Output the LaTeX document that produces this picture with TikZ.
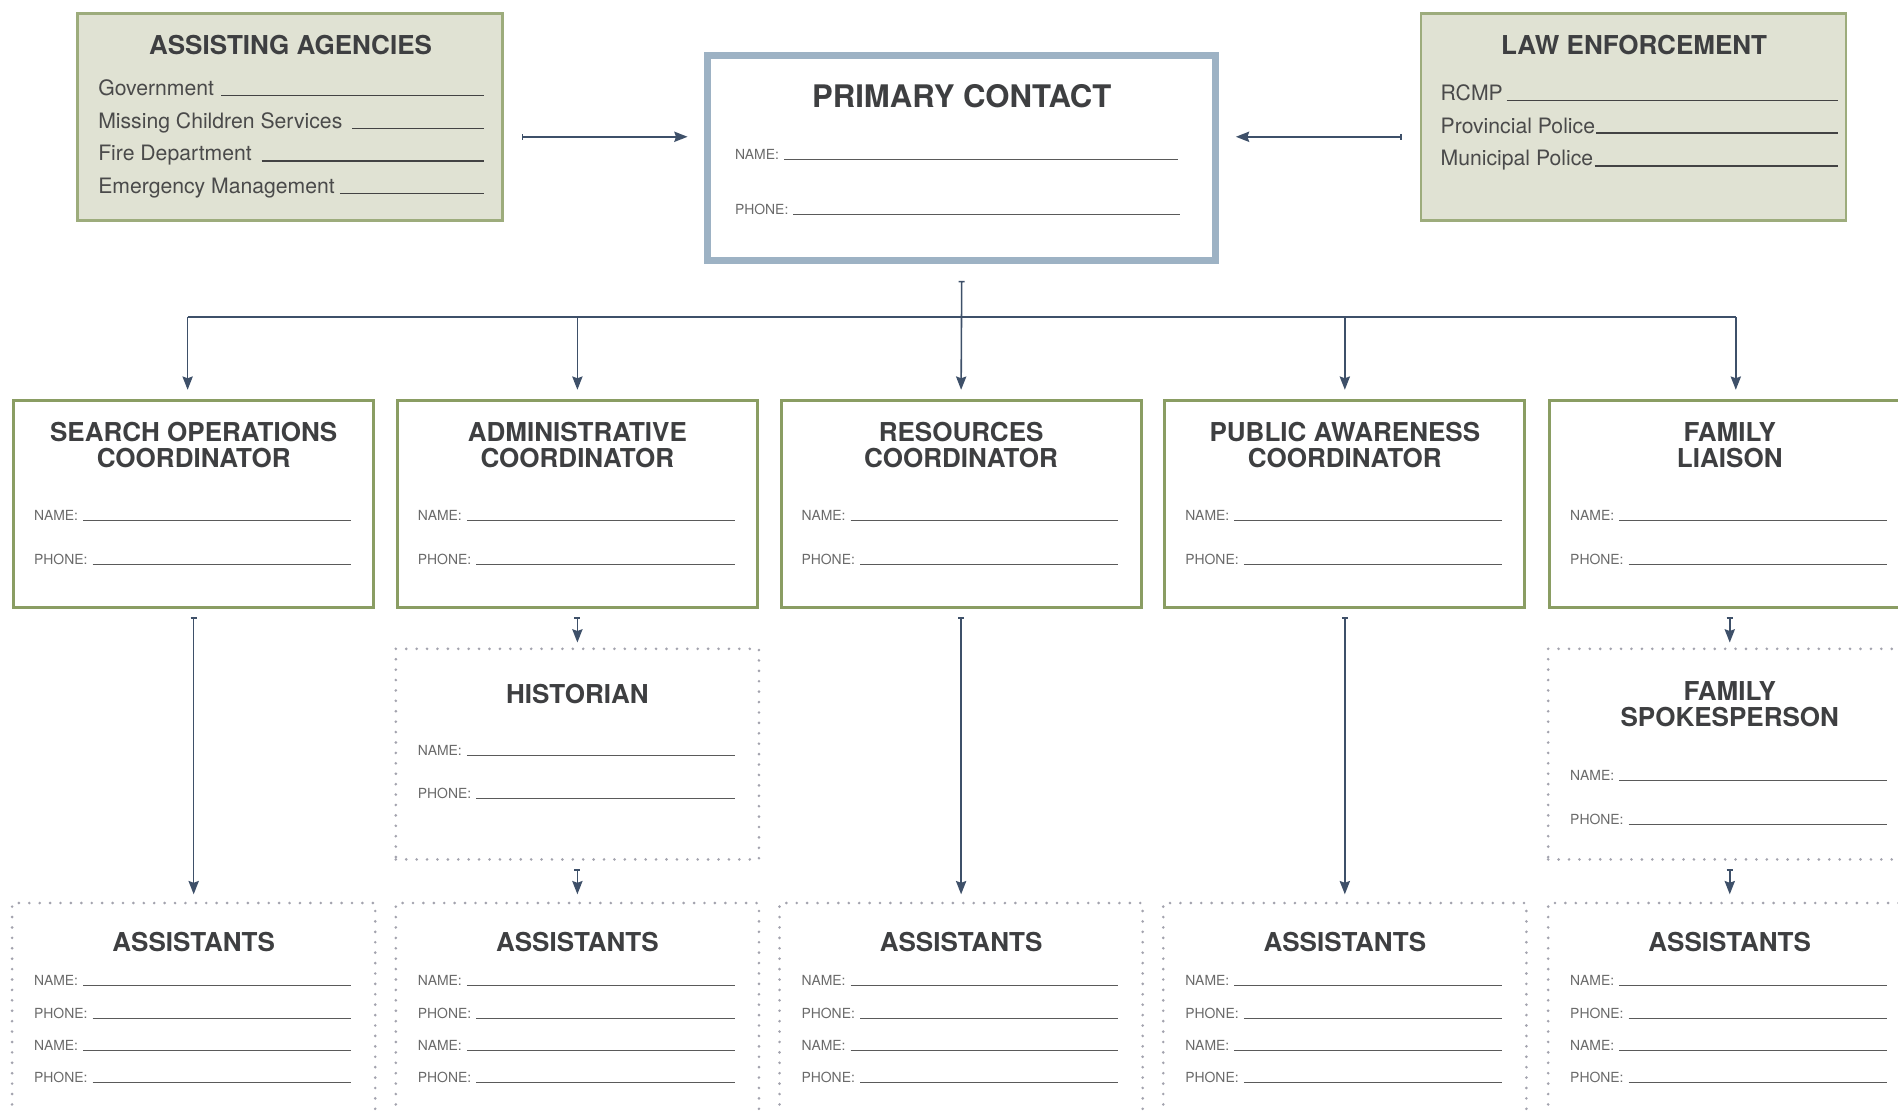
\documentclass[tikz,border=0pt]{standalone}
\usepackage{fontspec}
\setmainfont{TeX Gyre Heros}
\usetikzlibrary{arrows.meta}
\definecolor{titlegray}{HTML}{3E3F41}
\definecolor{bodygray}{HTML}{4A4A4A}
\definecolor{labelgray}{HTML}{6A6A6A}
\definecolor{linegray}{HTML}{5A5A5A}
\definecolor{boxgreen}{HTML}{8A9D63}
\definecolor{panelfill}{HTML}{E0E2D3}
\definecolor{panelgreen}{HTML}{9DAC7C}
\definecolor{primblue}{HTML}{9DB2C4}
\definecolor{arrowc}{HTML}{3E5069}
\definecolor{dotgray}{HTML}{A3A3AE}
% small field: name, x, baseline, xend, text
\newcommand\fld[5]{%
  \node[labelf] (#1) at (#2,#3) {#5};
  \coordinate (#1-e) at (#4,#3);
  \draw[fline] ([xshift=4pt]#1.base east) -- (#1-e);
}
% panel field: name, x, baseline, xend, text, gap
\newcommand\pfld[6]{%
  \node[bodyf] (#1) at (#2,#3) {#5};
  \coordinate (#1-e) at (#4,#3);
  \draw[pline] ([xshift=#6]#1.base east) -- (#1-e);
}
\begin{document}
\begin{tikzpicture}[x=1pt,y=-1pt,
  titlef/.style={font=\fontsize{21.5}{21.5}\selectfont\bfseries, text=titlegray, align=center, inner sep=0pt, anchor=base},
  bodyf/.style={font=\fontsize{17.5}{20}\selectfont, text=bodygray, inner sep=0pt, anchor=base west},
  labelf/.style={font=\fontsize{11.5}{13}\selectfont, text=labelgray, inner sep=0pt, anchor=base west},
  fline/.style={draw=linegray, line width=0.8pt},
  pline/.style={draw=bodygray!90!black, line width=1.3pt},
  greenbox/.style={draw=boxgreen, line width=2.5pt, minimum width=297.5pt, minimum height=170.5pt, inner sep=0pt, fill=white},
  dotbox/.style={draw=dotgray, line width=2.4pt, line cap=round, dash pattern=on 0pt off 8.6pt, inner sep=0pt, minimum width=300pt},
  panel/.style={fill=panelfill, draw=panelgreen, line width=2.2pt, inner sep=0pt, minimum width=351pt, minimum height=171pt},
  primbox/.style={draw=primblue, line width=5.7pt, inner sep=0pt, fill=white},
  conn/.style={draw=arrowc, line width=1.3pt},
  plainArrow/.style={conn, -{Stealth[length=11pt,width=8.5pt,inset=1.5pt]}},
  barArrow/.style={conn, {Bar[width=5pt]}-{Stealth[length=11pt,width=8.5pt,inset=1.5pt]}}
]
\useasboundingbox (0,0) rectangle (1568,918);
\clip (0,0) rectangle (1568,918);
\fill[white] (0,0) rectangle (1568,918);

% ---------- top row ----------
\node[panel] (aa) at (239.5,96.5) {};
\node[titlef] (aa-t) at (240,45) {ASSISTING AGENCIES};
\pfld{aa-1}{81}{79}{400}{Government}{6pt}
\pfld{aa-2}{81}{106}{400}{Missing Children Services}{8pt}
\pfld{aa-3}{81}{133}{400}{Fire Department}{8pt}
\pfld{aa-4}{81}{160}{400}{Emergency Management}{4pt}

\node[panel] (le) at (1349.5,96.5) {};
\node[titlef] (le-t) at (1350,45) {LAW ENFORCEMENT};
\pfld{le-1}{1190}{83}{1518}{RCMP}{3pt}
\pfld{le-2}{1190}{110}{1518}{Provincial Police}{1pt}
\pfld{le-3}{1190}{137}{1518}{Municipal Police}{1pt}

\node[primbox, minimum width=419.3pt, minimum height=169.3pt] (pc) at (794.5,130.5) {};
\node[titlef, font=\fontsize{25.7}{26}\selectfont\bfseries] (pc-t) at (794.5,89) {PRIMARY CONTACT};
\fld{pc-n}{607}{132}{973}{NAME:}
\fld{pc-p}{607}{177}{975}{PHONE:}

\coordinate (aa-out) at (431,113);
\coordinate (pc-inL) at (568,113);
\draw[barArrow] (aa-out) -- (pc-inL);
\coordinate (le-out) at (1158,113);
\coordinate (pc-inR) at (1021,113);
\draw[barArrow] (le-out) -- (pc-inR);

% ---------- coordinator row ----------
\foreach \nm/\lx/\ttl in {so/10/{SEARCH OPERATIONS\\COORDINATOR},
                          ad/327/{ADMINISTRATIVE\\COORDINATOR},
                          rc/644/{RESOURCES\\COORDINATOR},
                          pa/961/{PUBLIC AWARENESS\\COORDINATOR},
                          fl/1279/{FAMILY\\LIAISON}} {
  \node[greenbox] (\nm) at (\lx+150,416.5) {};
  \node[titlef] (\nm-t) at (\lx+150,386.5) {\ttl};
  \fld{\nm-n}{\lx+18}{430}{\lx+280}{NAME:}
  \fld{\nm-p}{\lx+18}{466}{\lx+280}{PHONE:}
}

% ---------- historian / spokesperson ----------
\node[dotbox, minimum height=174pt] (hi) at (477,623) {};
\node[titlef] (hi-t) at (477,581) {HISTORIAN};
\fld{hi-n}{345}{624}{607}{NAME:}
\fld{hi-p}{345}{660}{607}{PHONE:}

\node[dotbox, minimum height=174pt] (fs) at (1429,623) {};
\node[titlef] (fs-t) at (1429,600.5) {FAMILY\\SPOKESPERSON};
\fld{fs-n}{1297}{645}{1559}{NAME:}
\fld{fs-p}{1297}{681}{1559}{PHONE:}

% ---------- assistants ----------
\foreach \nm/\lx in {as1/10, as2/327, as3/644, as4/961, as5/1279} {
  \node[dotbox, minimum height=300pt] (\nm) at (\lx+150,896) {};
  \node[titlef] (\nm-t) at (\lx+150,786) {ASSISTANTS};
  \fld{\nm-n1}{\lx+18}{814}{\lx+280}{NAME:}
  \fld{\nm-p1}{\lx+18}{841}{\lx+280}{PHONE:}
  \fld{\nm-n2}{\lx+18}{868}{\lx+280}{NAME:}
  \fld{\nm-p2}{\lx+18}{894}{\lx+280}{PHONE:}
}

% ---------- connectors ----------
\coordinate (pc-s) at ([yshift=-14pt]pc.south);
\coordinate (h1) at (155,262);
\coordinate (h2) at (477,262);
\coordinate (h4) at (1111,262);
\coordinate (h5) at (1434,262);
\draw[conn] (h1) -- (h5);
\draw[barArrow] (pc-s) -- ([yshift=8pt]rc.north);
\draw[plainArrow] (h1) -- ([xshift=-5pt,yshift=8pt]so.north);
\draw[plainArrow] (h2) -- ([yshift=8pt]ad.north);
\draw[plainArrow] (h4) -- ([yshift=8pt]pa.north);
\draw[plainArrow] (h5) -- ([xshift=5pt,yshift=8pt]fl.north);

\draw[barArrow] ([yshift=-7pt]so.south) -- ([yshift=6pt]as1.north);
\draw[barArrow] ([yshift=-7pt]ad.south) -- ([yshift=4pt]hi.north);
\draw[barArrow] ([yshift=-7pt]hi.south) -- ([yshift=6pt]as2.north);
\draw[barArrow] ([yshift=-7pt]rc.south) -- ([yshift=6pt]as3.north);
\draw[barArrow] ([yshift=-7pt]pa.south) -- ([yshift=6pt]as4.north);
\draw[barArrow] ([yshift=-7pt]fl.south) -- ([yshift=4pt]fs.north);
\draw[barArrow] ([yshift=-7pt]fs.south) -- ([yshift=6pt]as5.north);
\end{tikzpicture}
\end{document}
